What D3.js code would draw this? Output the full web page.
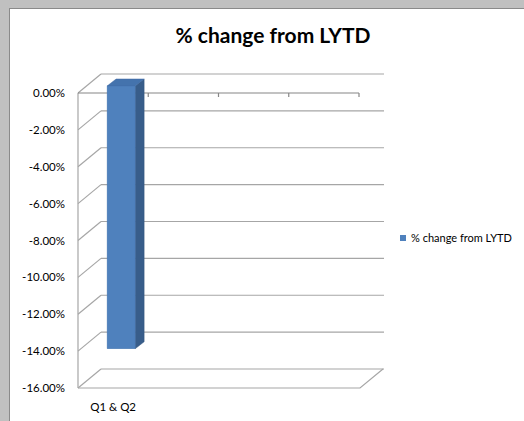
<!DOCTYPE html>
<html>
<head>
<meta charset="utf-8">
<title>% change from LYTD</title>
<script src="https://cdn.jsdelivr.net/npm/d3@7"></script>
<style>
  html, body { margin: 0; padding: 0; background: #c0c0c0; }
  svg { display: block; font-family: Lato, "Open Sans", sans-serif; }
</style>
</head>
<body>
<div id="chart"></div>
<script>
// data
var categories = ["Q1 & Q2", "", "", ""];
var seriesName = "% change from LYTD";
var values = [-0.1425];
var yTicks = [0, -0.02, -0.04, -0.06, -0.08, -0.10, -0.12, -0.14, -0.16];

var W = 524, H = 421;
var svg = d3.select("#chart").append("svg").attr("width", W).attr("height", H);

// window frame
svg.append("rect").attr("x", 0).attr("y", 0).attr("width", W).attr("height", H).attr("fill", "#c0c0c0");
svg.append("rect").attr("x", 9).attr("y", 8).attr("width", W - 9).attr("height", H - 8).attr("fill", "#8a8a8a");
svg.append("rect").attr("x", 10).attr("y", 9).attr("width", W - 10).attr("height", H - 9).attr("fill", "#fff");

// 3d offsets for depth
var dx = 23, dy = -19;

var y = d3.scaleLinear().domain([0, -0.16]).range([93, 388]);
var x = d3.scaleBand().domain(d3.range(categories.length)).range([78, 359]);
var fmt = d3.formatLocale({decimal: ".", thousands: ",", grouping: [3], currency: ["", ""], minus: "-"}).format(".2%");

var grid = svg.append("g").attr("stroke", "#a6a6a6").attr("stroke-width", 1.2).attr("fill", "none");

// back wall gridlines and side wall diagonals
yTicks.forEach(function(t) {
  var yy = y(t);
  grid.append("line").attr("x1", 78 + dx).attr("x2", 384).attr("y1", yy + dy).attr("y2", yy + dy);
  grid.append("line").attr("x1", 78).attr("x2", 78 + dx).attr("y1", yy).attr("y2", yy + dy);
});
// left front edge
grid.append("line").attr("x1", 78).attr("x2", 78).attr("y1", y(0)).attr("y2", y(-0.16));
// floor
grid.append("path").attr("d",
  "M" + 78 + "," + y(-0.16) + "L" + 360 + "," + y(-0.16) +
  "L" + (360 + dx) + "," + (y(-0.16) + dy));

// category axis at 0
var axisG = svg.append("g").attr("stroke", "#868686").attr("stroke-width", 1.2);
axisG.append("line").attr("x1", 78).attr("x2", 359).attr("y1", y(0)).attr("y2", y(0));
x.domain().forEach(function(i) {
  var xx = x(i) + x.bandwidth();
  axisG.append("line").attr("x1", xx).attr("x2", xx).attr("y1", y(0)).attr("y2", y(0) + 4);
});

// y tick labels
svg.append("g").selectAll("text").data(yTicks).enter().append("text")
  .attr("x", 65).attr("y", function(d) { return y(d) + 4; })
  .attr("text-anchor", "end").attr("font-size", 11.5).attr("fill", "#000")
  .text(function(d) { return fmt(d); });

// category labels
svg.append("g").selectAll("text").data(categories).enter().append("text")
  .attr("x", function(d, i) { return x(i) + x.bandwidth() / 2; })
  .attr("y", 411).attr("text-anchor", "middle").attr("font-size", 11.5).attr("fill", "#000")
  .text(function(d) { return d; });

// bars
var bw = 28, bd = 9, bdy = -7, shiftX = 8, shiftY = -7;
var bars = svg.append("g").selectAll("g").data(values).enter().append("g");
function barGeom(d, i) {
  var x0 = x(i) + x.bandwidth() / 2 - bw / 2 + shiftX;
  var y0 = y(0) + shiftY, y1 = y(d) + shiftY;
  return {x0: x0, x1: x0 + bw, y0: y0, y1: y1};
}
bars.append("path").attr("fill", "#385d8a").attr("stroke", "#34567f").attr("stroke-width", 0.5)
  .attr("d", function(d, i) {
    var g = barGeom(d, i);
    return "M" + g.x1 + "," + g.y0 + "L" + (g.x1 + bd) + "," + (g.y0 + bdy) +
      "L" + (g.x1 + bd) + "," + (g.y1 + bdy) + "L" + g.x1 + "," + g.y1 + "Z";
  });
bars.append("path").attr("fill", "#4473ad").attr("stroke", "#3c66a0").attr("stroke-width", 0.5)
  .attr("d", function(d, i) {
    var g = barGeom(d, i);
    return "M" + g.x0 + "," + g.y0 + "L" + (g.x0 + bd) + "," + (g.y0 + bdy) +
      "L" + (g.x1 + bd) + "," + (g.y0 + bdy) + "L" + g.x1 + "," + g.y0 + "Z";
  });
bars.append("rect").attr("fill", "#4f81bd").attr("stroke", "#4676b0").attr("stroke-width", 0.5)
  .attr("x", function(d, i) { return barGeom(d, i).x0; })
  .attr("y", function(d, i) { return barGeom(d, i).y0; })
  .attr("width", bw)
  .attr("height", function(d, i) { var g = barGeom(d, i); return g.y1 - g.y0; });

// title
svg.append("text").attr("x", 273).attr("y", 43).attr("text-anchor", "middle")
  .attr("font-size", 21).attr("font-weight", "bold").attr("fill", "#000")
  .text(seriesName);

// legend
var leg = svg.append("g").attr("transform", "translate(400,235)");
leg.append("rect").attr("width", 6).attr("height", 6).attr("fill", "#4f81bd");
leg.append("text").attr("x", 11).attr("y", 6.5).attr("font-size", 11).attr("fill", "#000").text(seriesName);
</script>
</body>
</html>
